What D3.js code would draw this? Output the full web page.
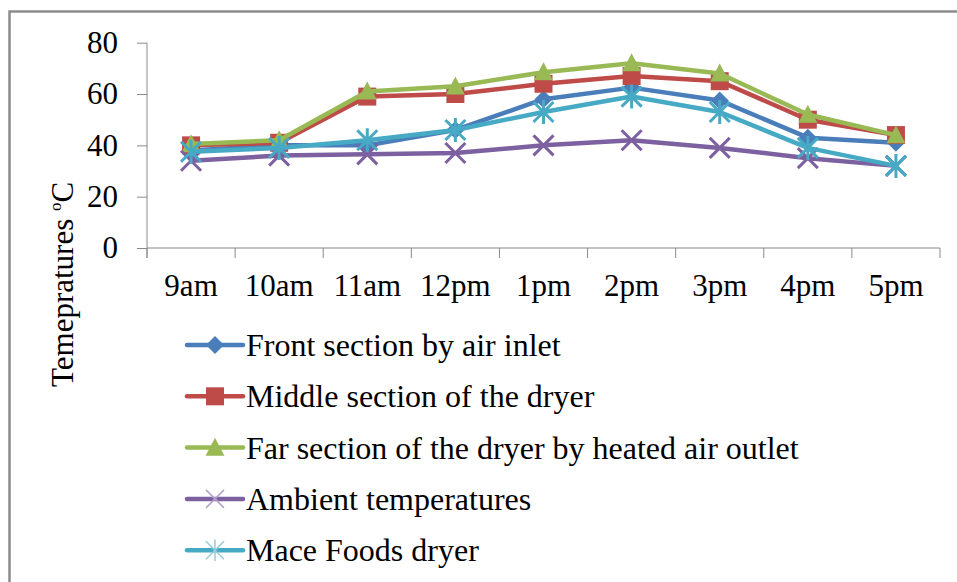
<!DOCTYPE html>
<html>
<head>
<meta charset="utf-8">
<script src="https://cdn.jsdelivr.net/npm/d3@7"></script>
<style>
  body { margin: 0; background: #fff; }
  text { font-family: "Liberation Serif", "Times New Roman", serif; fill: #000; }
</style>
</head>
<body>
<svg id="chart" width="957" height="582"></svg>
<script>
const hours = ['9am', '10am', '11am', '12pm', '1pm', '2pm', '3pm', '4pm', '5pm'];
const frontSection = [38, 40, 40, 46, 58, 62.5, 57.5, 43, 41];
const middleSection = [40, 41, 59, 60, 64, 67, 65, 50, 44];
const farSection = [40.5, 42, 61, 63, 68.5, 72, 68, 52, 44];
const ambient = [34, 36, 36.5, 37, 40, 42, 39, 35, 32];
const maceFoods = [37.5, 39, 42, 46, 53, 59, 53, 39, 32];
const yTicks = [0, 20, 40, 60, 80];

const series = [
  { name: 'Front section by air inlet', values: frontSection, color: '#4a7ebb', marker: 'diamond' },
  { name: 'Middle section of the dryer', values: middleSection, color: '#be4b48', marker: 'square' },
  { name: 'Far section of the dryer by heated air outlet', values: farSection, color: '#98b954', marker: 'triangle' },
  { name: 'Ambient temperatures', values: ambient, color: '#7d60a0', marker: 'times', light: '#b3a2c7' },
  { name: 'Mace Foods dryer', values: maceFoods, color: '#46aac5', marker: 'asterisk', light: '#93cddd' }
];

const svg = d3.select('#chart');

// outer frame (right and bottom edges fall outside the picture)
svg.append('rect')
  .attr('x', 9.5).attr('y', 11.5)
  .attr('width', 1000).attr('height', 1000)
  .attr('fill', 'none')
  .attr('stroke', '#8c8c8c')
  .attr('stroke-width', 2.5);

const x = d3.scaleBand().domain(hours).range([147, 940]);
const y = d3.scaleLinear().domain([0, 80]).range([248, 42.7]);
const axisColor = '#8a8a8a';

// y axis
const yAxis = d3.axisLeft(y).tickValues(yTicks).tickSize(10).tickPadding(19);
const gy = svg.append('g').attr('transform', 'translate(147,0)').call(yAxis);
gy.select('.domain').remove();
gy.selectAll('.tick line').attr('stroke', axisColor);
gy.selectAll('.tick text').style('font-size', '31px').attr('fill', '#000');
svg.append('line')
  .attr('x1', 147).attr('x2', 147)
  .attr('y1', y(80)).attr('y2', y(0) + 10)
  .attr('stroke', axisColor);

// x axis
svg.append('line')
  .attr('x1', x.range()[0]).attr('x2', x.range()[1])
  .attr('y1', y(0)).attr('y2', y(0))
  .attr('stroke', axisColor);
const bounds = hours.map(h => x(h)).concat([x.range()[1]]);
svg.selectAll('.xtick').data(bounds).join('line')
  .attr('class', 'xtick')
  .attr('x1', d => d).attr('x2', d => d)
  .attr('y1', y(0)).attr('y2', y(0) + 10)
  .attr('stroke', axisColor);
const xAxis = d3.axisBottom(x).tickSize(0);
const gx = svg.append('g').attr('transform', `translate(0,${y(0)})`).call(xAxis);
gx.select('.domain').remove();
gx.selectAll('.tick text')
  .style('font-size', '31px').attr('fill', '#000')
  .attr('y', 48).attr('dy', null);

// y axis title
const title = svg.append('text')
  .attr('transform', 'translate(73,387) rotate(-90)')
  .style('font-size', '31px');
title.append('tspan').text('Temepratures ');
title.append('tspan').attr('dy', -12).style('font-size', '17px').text('o');
title.append('tspan').attr('dy', 12).text('C');

// marker drawing
function markerPath(type, s) {
  const h = s / 2;
  switch (type) {
    case 'diamond': return `M0,${-h}L${h},0L0,${h}L${-h},0Z`;
    case 'square': return `M${-h},${-h}H${h}V${h}H${-h}Z`;
    case 'triangle': return `M0,${-h * 1.1}L${h * 1.05},${h * 0.9}L${-h * 1.05},${h * 0.9}Z`;
    case 'times': return `M${-h},${-h}L${h},${h}M${h},${-h}L${-h},${h}`;
    case 'asterisk': return `M${-h},${-h}L${h},${h}M${h},${-h}L${-h},${h}M0,${-h * 1.2}V${h * 1.2}`;
  }
}
function drawMarker(g, s, size, legend) {
  const stroked = s.marker === 'times' || s.marker === 'asterisk';
  g.attr('d', markerPath(s.marker, size))
    .attr('fill', stroked ? 'none' : s.color)
    .attr('stroke', stroked ? (legend ? s.light : s.color) : 'none')
    .attr('stroke-width', stroked ? (legend ? 1.5 : 3) : 0);
}

const line = d3.line()
  .x((d, i) => x(hours[i]) + x.bandwidth() / 2)
  .y(d => y(d));

series.forEach(s => {
  const g = svg.append('g');
  g.append('path')
    .attr('d', line(s.values))
    .attr('fill', 'none')
    .attr('stroke', s.color)
    .attr('stroke-width', 4.5)
    .attr('stroke-linejoin', 'round');
  g.selectAll('path.mk').data(s.values).join('path')
    .attr('class', 'mk')
    .attr('transform', (d, i) => `translate(${x(hours[i]) + x.bandwidth() / 2},${y(d)})`)
    .each(function () { drawMarker(d3.select(this), s, s.marker === 'times' || s.marker === 'asterisk' ? 20 : 18, false); });
});

// legend
const legend = svg.append('g').attr('transform', 'translate(187,345)');
series.forEach((s, i) => {
  const row = legend.append('g').attr('transform', `translate(0,${i * 51.3})`);
  row.append('line')
    .attr('x1', 0).attr('x2', 56)
    .attr('stroke', s.color)
    .attr('stroke-width', 4.5)
    .attr('stroke-linecap', 'round');
  row.append('path')
    .attr('transform', 'translate(28,0)')
    .each(function () { drawMarker(d3.select(this), s, 18, true); });
  row.append('text')
    .attr('x', 59).attr('y', 11)
    .style('font-size', '32px')
    .text(s.name);
});
</script>
</body>
</html>
